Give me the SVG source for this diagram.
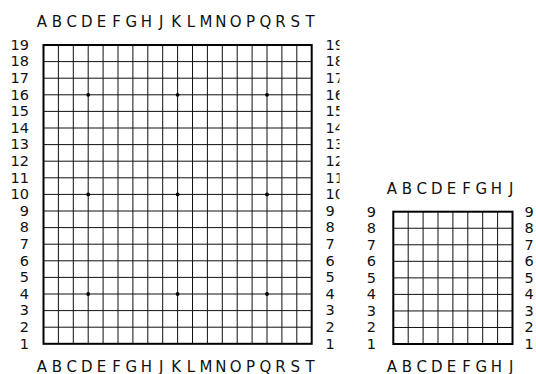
<svg xmlns="http://www.w3.org/2000/svg" width="536" height="374" viewBox="0 0 536 374">
<style>
text{font-family:"DejaVu Sans","Liberation Sans",sans-serif;fill:#111}
.c{font-size:15px;text-anchor:middle}
.n{font-size:14.5px}
.l{text-anchor:end}
.g{fill:none;stroke:#111;stroke-width:1}
.b{fill:none;stroke:#000;stroke-width:2}
.s{fill:#000}
</style>
<defs>
<clipPath id="clipR"><rect x="320" y="30" width="19.5" height="330"/></clipPath>
</defs>
<rect width="536" height="374" fill="#fff"/>
<g id="board19">
<path class="g" d="M58.4 45V343.8M73.3 45V343.8M88.2 45V343.8M103.1 45V343.8M118 45V343.8M132.9 45V343.8M147.8 45V343.8M162.7 45V343.8M177.6 45V343.8M192.5 45V343.8M207.4 45V343.8M222.3 45V343.8M237.2 45V343.8M252.1 45V343.8M267 45V343.8M281.9 45V343.8M296.8 45V343.8M43.5 61.6H311.7M43.5 78.2H311.7M43.5 94.8H311.7M43.5 111.4H311.7M43.5 128H311.7M43.5 144.6H311.7M43.5 161.2H311.7M43.5 177.8H311.7M43.5 194.4H311.7M43.5 211H311.7M43.5 227.6H311.7M43.5 244.2H311.7M43.5 260.8H311.7M43.5 277.4H311.7M43.5 294H311.7M43.5 310.6H311.7M43.5 327.2H311.7"/>
<rect class="b" x="43.5" y="45" width="268.2" height="298.8"/>
<g class="s">
<circle cx="88.2" cy="94.8" r="1.9"/><circle cx="177.6" cy="94.8" r="1.9"/><circle cx="267" cy="94.8" r="1.9"/>
<circle cx="88.2" cy="194.4" r="1.9"/><circle cx="177.6" cy="194.4" r="1.9"/><circle cx="267" cy="194.4" r="1.9"/>
<circle cx="88.2" cy="294" r="1.9"/><circle cx="177.6" cy="294" r="1.9"/><circle cx="267" cy="294" r="1.9"/>
</g>
</g>
<g id="labels19-top" class="c">
<text x="42" y="27">A</text><text x="56.9" y="27">B</text><text x="71.8" y="27">C</text><text x="86.7" y="27">D</text><text x="101.6" y="27">E</text><text x="116.5" y="27">F</text><text x="131.4" y="27">G</text><text x="146.3" y="27">H</text><text x="161.2" y="27">J</text><text x="176.1" y="27">K</text><text x="191" y="27">L</text><text x="205.9" y="27">M</text><text x="220.8" y="27">N</text><text x="235.7" y="27">O</text><text x="250.6" y="27">P</text><text x="265.5" y="27">Q</text><text x="280.4" y="27">R</text><text x="295.3" y="27">S</text><text x="310.2" y="27">T</text>
</g>
<g id="labels19-bottom" class="c">
<text x="42" y="372">A</text><text x="56.9" y="372">B</text><text x="71.8" y="372">C</text><text x="86.7" y="372">D</text><text x="101.6" y="372">E</text><text x="116.5" y="372">F</text><text x="131.4" y="372">G</text><text x="146.3" y="372">H</text><text x="161.2" y="372">J</text><text x="176.1" y="372">K</text><text x="191" y="372">L</text><text x="205.9" y="372">M</text><text x="220.8" y="372">N</text><text x="235.7" y="372">O</text><text x="250.6" y="372">P</text><text x="265.5" y="372">Q</text><text x="280.4" y="372">R</text><text x="295.3" y="372">S</text><text x="310.2" y="372">T</text>
</g>
<g id="labels19-left" class="n l">
<text x="29" y="49.8">19</text><text x="29" y="66.4">18</text><text x="29" y="83">17</text><text x="29" y="99.6">16</text><text x="29" y="116.2">15</text><text x="29" y="132.8">14</text><text x="29" y="149.4">13</text><text x="29" y="166">12</text><text x="29" y="182.6">11</text><text x="29" y="199.2">10</text><text x="29" y="215.8">9</text><text x="29" y="232.4">8</text><text x="29" y="249">7</text><text x="29" y="265.6">6</text><text x="29" y="282.2">5</text><text x="29" y="298.8">4</text><text x="29" y="315.4">3</text><text x="29" y="332">2</text><text x="29" y="348.6">1</text>
</g>
<g id="labels19-right" class="n" clip-path="url(#clipR)">
<text x="325.5" y="49.8">19</text><text x="325.5" y="66.4">18</text><text x="325.5" y="83">17</text><text x="325.5" y="99.6">16</text><text x="325.5" y="116.2">15</text><text x="325.5" y="132.8">14</text><text x="325.5" y="149.4">13</text><text x="325.5" y="166">12</text><text x="325.5" y="182.6">11</text><text x="325.5" y="199.2">10</text><text x="325.5" y="215.8">9</text><text x="325.5" y="232.4">8</text><text x="325.5" y="249">7</text><text x="325.5" y="265.6">6</text><text x="325.5" y="282.2">5</text><text x="325.5" y="298.8">4</text><text x="325.5" y="315.4">3</text><text x="325.5" y="332">2</text><text x="325.5" y="348.6">1</text>
</g>
<g id="board9">
<path class="g" d="M408.2 211.7V344M423.1 211.7V344M438 211.7V344M452.9 211.7V344M467.8 211.7V344M482.7 211.7V344M497.6 211.7V344M393.3 228.24H512.5M393.3 244.78H512.5M393.3 261.32H512.5M393.3 277.86H512.5M393.3 294.4H512.5M393.3 310.94H512.5M393.3 327.48H512.5"/>
<rect class="b" x="393.3" y="211.7" width="119.2" height="132.3"/>
</g>
<g id="labels9-top" class="c">
<text x="392" y="193.5">A</text><text x="406.9" y="193.5">B</text><text x="421.8" y="193.5">C</text><text x="436.7" y="193.5">D</text><text x="451.6" y="193.5">E</text><text x="466.5" y="193.5">F</text><text x="481.4" y="193.5">G</text><text x="496.3" y="193.5">H</text><text x="511.2" y="193.5">J</text>
</g>
<g id="labels9-bottom" class="c">
<text x="392" y="372">A</text><text x="406.9" y="372">B</text><text x="421.8" y="372">C</text><text x="436.7" y="372">D</text><text x="451.6" y="372">E</text><text x="466.5" y="372">F</text><text x="481.4" y="372">G</text><text x="496.3" y="372">H</text><text x="511.2" y="372">J</text>
</g>
<g id="labels9-left" class="n l">
<text x="376" y="216.5">9</text><text x="376" y="233">8</text><text x="376" y="249.6">7</text><text x="376" y="266.1">6</text><text x="376" y="282.7">5</text><text x="376" y="299.2">4</text><text x="376" y="315.7">3</text><text x="376" y="332.3">2</text><text x="376" y="348.8">1</text>
</g>
<g id="labels9-right" class="n">
<text x="524.5" y="216.5">9</text><text x="524.5" y="233">8</text><text x="524.5" y="249.6">7</text><text x="524.5" y="266.1">6</text><text x="524.5" y="282.7">5</text><text x="524.5" y="299.2">4</text><text x="524.5" y="315.7">3</text><text x="524.5" y="332.3">2</text><text x="524.5" y="348.8">1</text>
</g>
</svg>
